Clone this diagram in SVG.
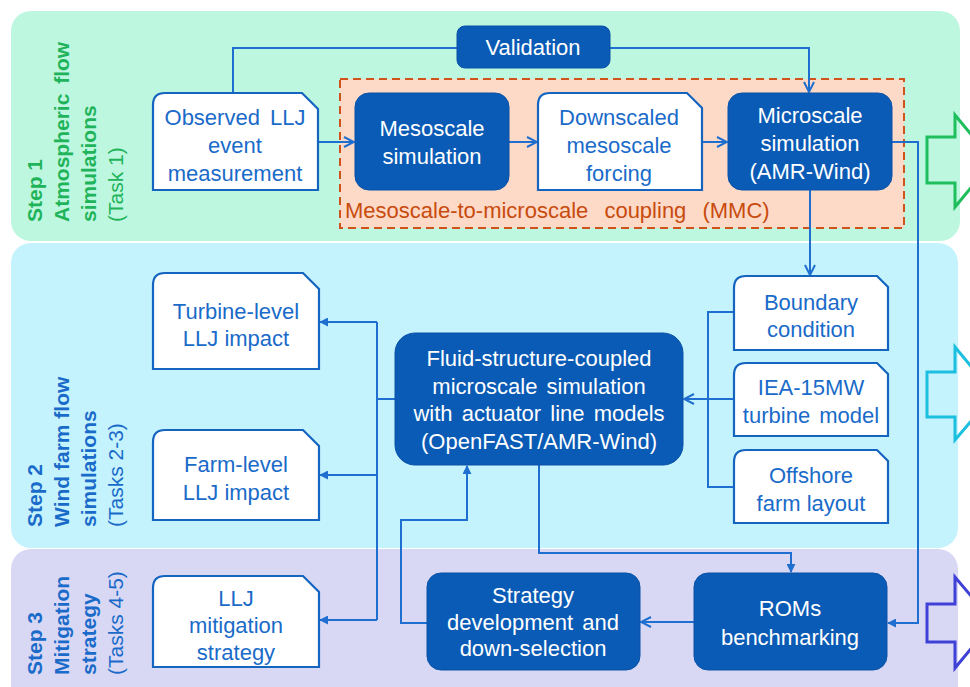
<svg xmlns="http://www.w3.org/2000/svg" width="970" height="687" viewBox="0 0 970 687">
<defs>
<marker id="chev" viewBox="0 0 12 12" refX="11" refY="6" markerWidth="12" markerHeight="12" markerUnits="userSpaceOnUse" orient="auto">
<path d="M1,1 L11,6 L1,11" fill="none" stroke="#1e6fcf" stroke-width="2"/>
</marker>
<marker id="tri" viewBox="0 0 10 10" refX="9" refY="5" markerWidth="9" markerHeight="9" markerUnits="userSpaceOnUse" orient="auto">
<path d="M0,0 L10,5 L0,10 Z" fill="#1e6fcf"/>
</marker>
</defs>
<style>
text{font-family:"Liberation Sans",Arial,sans-serif;}
.t{font-size:22px;text-anchor:middle;}
.w{fill:#ffffff;}
.b{fill:#1a6bc9;}
.dark{fill:#0a5bb5;stroke:#0a52a8;stroke-width:1;}
.note{fill:#ffffff;stroke:#1565c0;stroke-width:2.2;}
.c{fill:none;stroke:#1e6fcf;stroke-width:2;}
.step{font-size:21px;}
.bold{font-weight:bold;}
.big{stroke-width:3;}
</style>

<!-- panels -->
<g id="panels">
<rect x="11" y="11" width="949" height="230" rx="20" fill="#bef7e0"/>
<rect x="11" y="243" width="947" height="305" rx="20" fill="#c5f3fd"/>
<rect x="11" y="549" width="947" height="160" rx="20" fill="#d8d8f5"/>
</g>

<!-- big arrows -->
<g id="bigarrows" fill="none">
<path class="big" d="M927,137 H955 V115 L993,161 L955,207 V183 H927 Z" stroke="#1fbe5c"/>
<path class="big" d="M927,372 H955 V347 L994,394 L955,440 V417 H927 Z" stroke="#1cbfe0"/>
<path class="big" d="M927,604 H955 V577 L993,622 L955,668 V642 H927 Z" stroke="#3e40d6"/>
</g>

<!-- step labels -->
<g id="step1" class="step" fill="#1fb45a">
<text class="bold" transform="translate(42,222) rotate(-90)">Step 1</text>
<text class="bold" transform="translate(69,222) rotate(-90)" word-spacing="4">Atmospheric flow</text>
<text class="bold" transform="translate(96,222) rotate(-90)">simulations</text>
<text transform="translate(123,222) rotate(-90)">(Task 1)</text>
</g>
<g id="step2" class="step" fill="#1a6bc9">
<text class="bold" transform="translate(42,527) rotate(-90)">Step 2</text>
<text class="bold" transform="translate(69,527) rotate(-90)">Wind farm flow</text>
<text class="bold" transform="translate(96,527) rotate(-90)">simulations</text>
<text transform="translate(123,527) rotate(-90)">(Tasks 2-3)</text>
</g>
<g id="step3" class="step" fill="#1a6bc9">
<text class="bold" transform="translate(42,675) rotate(-90)">Step 3</text>
<text class="bold" transform="translate(69,675) rotate(-90)">Mitigation</text>
<text class="bold" transform="translate(96,675) rotate(-90)">strategy</text>
<text transform="translate(123,675) rotate(-90)">(Tasks 4-5)</text>
</g>

<!-- MMC box -->
<g id="mmc">
<rect x="340" y="79" width="564" height="149" fill="#fdd9c7" stroke="#d0531c" stroke-width="2" stroke-dasharray="8,5"/>
<text x="345" y="218" font-size="22" fill="#c84b0e" word-spacing="10">Mesoscale-to-microscale coupling (MMC)</text>
</g>

<!-- connectors -->
<g id="connectors">
<path class="c" d="M233,93 V48 H457"/>
<path class="c" d="M610,48 H809 V92" marker-end="url(#chev)"/>
<path class="c" d="M318,142 H354" marker-end="url(#chev)"/>
<path class="c" d="M509,142 H537" marker-end="url(#chev)"/>
<path class="c" d="M702,142 H727" marker-end="url(#chev)"/>
<path class="c" d="M892,142 H918 V623 H888" marker-end="url(#tri)"/>
<path class="c" d="M810,190 V275" marker-end="url(#chev)"/>
<path class="c" d="M734,312 H708 V487 H734"/>
<path class="c" d="M734,399 H684" marker-end="url(#chev)"/>
<path class="c" d="M395,399 H377"/>
<path class="c" d="M377,322 V620"/>
<path class="c" d="M377,322 H320" marker-end="url(#tri)"/>
<path class="c" d="M377,475 H320" marker-end="url(#tri)"/>
<path class="c" d="M377,620 H320" marker-end="url(#tri)"/>
<path class="c" d="M539,465 V553 H791 V572" marker-end="url(#tri)"/>
<path class="c" d="M427,623 H401 V520 H467 V466" marker-end="url(#tri)"/>
<path class="c" d="M694,622 H641" marker-end="url(#chev)"/>
</g>

<!-- nodes -->
<g id="validation">
<rect class="dark" x="457" y="26" width="153" height="42" rx="8"/>
<text class="t w" x="533" y="55">Validation</text>
</g>
<g id="observed">
<path class="note" d="M165,93 H302 L318,109 V190 H153 V105 Q153,93 165,93 Z"/>
<text class="t b" x="235" y="125" word-spacing="4">Observed LLJ</text>
<text class="t b" x="235" y="153">event</text>
<text class="t b" x="235" y="181">measurement</text>
</g>
<g id="mesoscale">
<rect class="dark" x="355" y="93" width="154" height="97" rx="14"/>
<text class="t w" x="432" y="136">Mesoscale</text>
<text class="t w" x="432" y="164">simulation</text>
</g>
<g id="downscaled">
<path class="note" d="M550,93 H687 L702,108 V190 H538 V105 Q538,93 550,93 Z"/>
<text class="t b" x="619" y="125">Downscaled</text>
<text class="t b" x="619" y="153">mesoscale</text>
<text class="t b" x="619" y="181">forcing</text>
</g>
<g id="microscale">
<rect class="dark" x="728" y="93" width="164" height="97" rx="14"/>
<text class="t w" x="810" y="123">Microscale</text>
<text class="t w" x="810" y="151">simulation</text>
<text class="t w" x="810" y="179">(AMR-Wind)</text>
</g>
<g id="turbine-level">
<path class="note" d="M165,273 H303 L319,289 V369 H153 V285 Q153,273 165,273 Z"/>
<text class="t b" x="236" y="319">Turbine-level</text>
<text class="t b" x="236" y="346">LLJ impact</text>
</g>
<g id="farm-level">
<path class="note" d="M165,430 H303 L319,446 V520 H153 V442 Q153,430 165,430 Z"/>
<text class="t b" x="236" y="472">Farm-level</text>
<text class="t b" x="236" y="500">LLJ impact</text>
</g>
<g id="fluid">
<rect class="dark" x="395" y="333" width="288" height="132" rx="20"/>
<text class="t w" x="539" y="366">Fluid-structure-coupled</text>
<text class="t w" x="539" y="394" word-spacing="3">microscale simulation</text>
<text class="t w" x="539" y="421" word-spacing="3">with actuator line models</text>
<text class="t w" x="539" y="449">(OpenFAST/AMR-Wind)</text>
</g>
<g id="boundary">
<path class="note" d="M746,276 H877 L888,287 V350 H734 V288 Q734,276 746,276 Z"/>
<text class="t b" x="811" y="310">Boundary</text>
<text class="t b" x="811" y="337">condition</text>
</g>
<g id="iea">
<path class="note" d="M746,363 H877 L888,374 V436 H734 V375 Q734,363 746,363 Z"/>
<text class="t b" x="811" y="395">IEA-15MW</text>
<text class="t b" x="811" y="423" word-spacing="3">turbine model</text>
</g>
<g id="offshore">
<path class="note" d="M746,450 H877 L888,461 V523 H734 V462 Q734,450 746,450 Z"/>
<text class="t b" x="811" y="483">Offshore</text>
<text class="t b" x="811" y="511">farm layout</text>
</g>
<g id="mitigation">
<path class="note" d="M165,576 H303 L319,592 V667 H153 V588 Q153,576 165,576 Z"/>
<text class="t b" x="236" y="606">LLJ</text>
<text class="t b" x="236" y="633">mitigation</text>
<text class="t b" x="236" y="660">strategy</text>
</g>
<g id="strategy">
<rect class="dark" x="427" y="573" width="213" height="97" rx="14"/>
<text class="t w" x="533" y="603">Strategy</text>
<text class="t w" x="533" y="630" word-spacing="3">development and</text>
<text class="t w" x="533" y="656">down-selection</text>
</g>
<g id="roms">
<rect class="dark" x="694" y="573" width="193" height="97" rx="14"/>
<text class="t w" x="790" y="616">ROMs</text>
<text class="t w" x="790" y="645">benchmarking</text>
</g>
</svg>
